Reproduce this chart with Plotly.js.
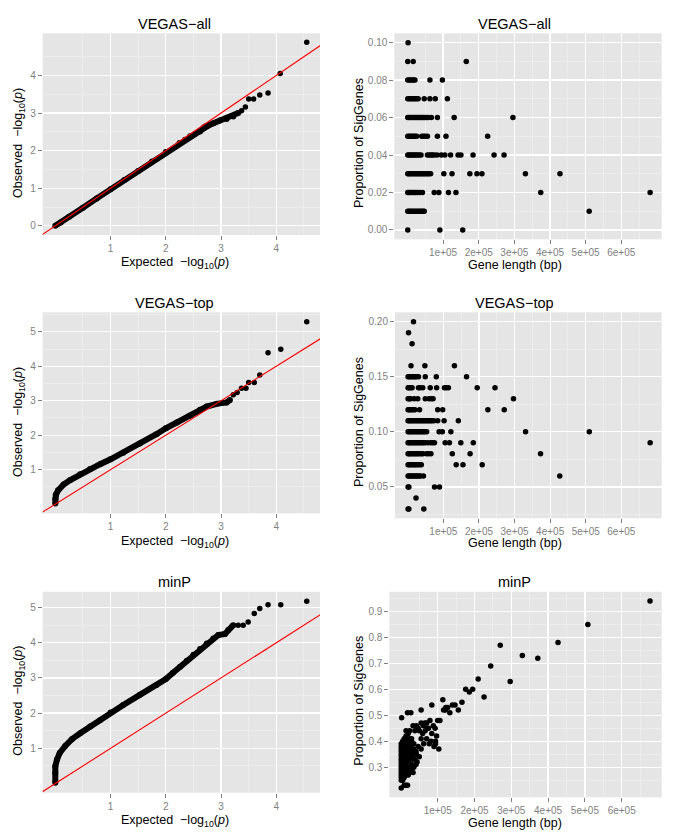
<!DOCTYPE html>
<html><head><meta charset="utf-8">
<script src="https://cdn.plot.ly/plotly-3.0.1.min.js"></script>
<style>body{margin:0;background:#fff}#chart{width:685px;height:837px}</style>
</head><body><div id="chart"></div>
<script>
// ---------------- DATA ----------------
// QQ plots: expected vs observed -log10(p); dense part and sparse upper tail
const qqAllExpDense = [0, 0.1, 0.25, 0.5, 0.75, 1.0, 1.25, 1.5, 1.75, 2.0, 2.25, 2.35, 2.44, 2.53, 2.62, 2.68, 2.71, 2.77, 2.86, 2.98, 3.10, 3.22, 3.31];
const qqAllObsDense = [0, 0.09, 0.24, 0.48, 0.73, 0.97, 1.22, 1.46, 1.71, 1.96, 2.20, 2.29, 2.38, 2.45, 2.51, 2.60, 2.64, 2.67, 2.73, 2.80, 2.84, 2.91, 3.00];
const qqAllExpTail = [3.37, 3.44, 3.50, 3.59, 3.70, 3.85, 4.07, 4.55];
const qqAllObsTail = [3.06, 3.16, 3.37, 3.37, 3.48, 3.53, 4.05, 4.88];

const qqTopExpDense = [0, 0, 0.01, 0.05, 0.15, 0.27, 0.45, 0.63, 0.81, 1.0, 1.23, 1.53, 1.83, 2.0, 2.2, 2.44, 2.62, 2.74, 2.92, 3.10, 3.16];
const qqTopObsDense = [0.02, 0.15, 0.27, 0.40, 0.57, 0.70, 0.87, 1.02, 1.16, 1.30, 1.49, 1.76, 2.03, 2.20, 2.37, 2.57, 2.74, 2.83, 2.91, 2.95, 3.02];
const qqTopExpTail = [3.22, 3.29, 3.37, 3.45, 3.50, 3.60, 3.70, 3.85, 4.08, 4.55];
const qqTopObsTail = [3.17, 3.24, 3.36, 3.36, 3.53, 3.53, 3.75, 4.39, 4.49, 5.29];

const qqMinExpDense = [0, 0, 0, 0.03, 0.08, 0.18, 0.30, 0.45, 0.63, 0.81, 1.0, 1.23, 1.53, 1.83, 2.0, 2.13, 2.26, 2.38, 2.50, 2.62, 2.74, 2.86, 2.95, 3.07, 3.13, 3.22];
const qqMinObsDense = [0.02, 0.30, 0.49, 0.68, 0.87, 1.07, 1.26, 1.43, 1.62, 1.80, 2.02, 2.23, 2.52, 2.80, 2.97, 3.15, 3.32, 3.49, 3.66, 3.82, 3.98, 4.12, 4.22, 4.25, 4.36, 4.50];
const qqMinExpTail = [3.31, 3.40, 3.49, 3.60, 3.70, 3.85, 4.08, 4.55];
const qqMinObsTail = [4.50, 4.50, 4.59, 4.83, 4.97, 5.08, 5.08, 5.18];

// Proportion of SigGenes vs gene length (bp), grouped by proportion
const vegasAllProp = [0.10, 0.09, 0.08, 0.07, 0.06, 0.05, 0.04, 0.03, 0.02, 0.01, 0.00];
const vegasAllLen = [
  [1700],
  [800, 16000, 165000],
  [800, 5000, 9000, 13000, 17000, 21000, 63000, 98000],
  [800, 5000, 9000, 13000, 17000, 21000, 26000, 30000, 47000, 63000, 78000, 112000],
  [800, 4000, 8000, 12000, 16000, 20000, 24000, 28000, 32000, 36000, 40000, 44000, 48000, 53000, 58000, 67000, 84000, 131000, 296000],
  [800, 5000, 9000, 13000, 17000, 21000, 26000, 40000, 45000, 50000, 56000, 84000, 108000, 225000],
  [800, 4000, 8000, 12000, 16000, 20000, 24000, 28000, 33000, 38000, 56000, 61000, 66000, 70000, 75000, 83000, 95000, 105000, 121000, 142000, 150000, 184000, 243000, 271000],
  [800, 4000, 8000, 12000, 16000, 20000, 24000, 28000, 32000, 36000, 40000, 44000, 48000, 52000, 56000, 60000, 65000, 102000, 125000, 175000, 195000, 209000, 331000, 428000],
  [800, 4000, 8000, 12000, 16000, 20000, 24000, 28000, 35000, 42000, 75000, 88000, 115000, 136000, 374000, 681000],
  [800, 4000, 8000, 12000, 16000, 20000, 24000, 28000, 32000, 36000, 40000, 44000, 47000, 510000],
  [800, 91000, 155000]
];

const vegasTopProp = [0.20, 0.19, 0.18, 0.16, 0.15, 0.14, 0.13, 0.12, 0.11, 0.10, 0.09, 0.08, 0.07, 0.06, 0.05, 0.04, 0.03];
const vegasTopLen = [
  [16000],
  [2000],
  [12000],
  [9000, 48000, 131000],
  [800, 4000, 8000, 12000, 16000, 20000, 24000, 30000, 49000, 80000, 165000],
  [800, 4000, 8000, 12000, 30000, 34000, 42000, 63000, 81000, 103000, 108000, 114000, 195000, 245000],
  [800, 4000, 8000, 18000, 28000, 49000, 60000, 66000, 71000, 297000],
  [800, 4000, 8000, 12000, 16000, 20000, 33000, 84000, 98000, 225000, 271000],
  [800, 4000, 8000, 12000, 16000, 20000, 24000, 28000, 32000, 36000, 40000, 44000, 48000, 52000, 56000, 60000, 64000, 68000, 73000, 84000, 102000, 142000],
  [800, 4000, 8000, 12000, 16000, 20000, 24000, 28000, 32000, 36000, 40000, 44000, 48000, 53000, 88000, 97000, 121000, 331000, 510000],
  [800, 4000, 8000, 12000, 16000, 20000, 24000, 28000, 32000, 36000, 40000, 44000, 49000, 56000, 64000, 70000, 75000, 105000, 117000, 149000, 184000, 681000],
  [800, 4000, 8000, 12000, 16000, 20000, 24000, 28000, 33000, 38000, 42000, 52000, 58000, 65000, 125000, 175000, 373000],
  [800, 4000, 8000, 12000, 16000, 20000, 24000, 28000, 33000, 38000, 136000, 155000, 209000],
  [800, 4000, 8000, 12000, 16000, 20000, 24000, 28000, 32000, 36000, 44000, 427000],
  [800, 3000, 75000, 89000],
  [23000],
  [800, 3000, 45000]
];

// minP: grouped by gene length
const minpLen = [1000, 2000, 5000, 9000, 14000, 18000, 20000, 24000, 27000, 29000, 33000, 35000, 38000, 41000, 42000, 44000, 47000, 50000, 55000, 59000, 61000, 62000, 65000, 66000, 70000, 72000, 75000, 77000, 79000, 82000, 84000, 88000, 90000, 93000, 94000, 97000, 100000, 103000, 106000, 114000, 116000, 121000, 122000, 127000, 133000, 140000, 147000, 156000, 166000, 176000, 186000, 195000, 210000, 226000, 244000, 270000, 297000, 330000, 372000, 427000, 508000, 677000];
const minpProp = [
  [0.22,0.25,0.26,0.27,0.28,0.29,0.30,0.31,0.32,0.33,0.34,0.35,0.36,0.37,0.38,0.39],
  [0.49],
  [0.25,0.27,0.29,0.30,0.31,0.32,0.33,0.34,0.35,0.36,0.37,0.38,0.39,0.40],
  [0.23,0.26,0.28,0.30,0.31,0.32,0.33,0.34,0.35,0.36,0.37,0.38,0.40,0.41],
  [0.23,0.27,0.29,0.31,0.33,0.34,0.36,0.37,0.39,0.42,0.44],
  [0.23,0.51],
  [0.27,0.29,0.30,0.32,0.34,0.35,0.38,0.40,0.43],
  [0.28,0.30,0.33,0.36,0.37,0.39,0.41,0.44],
  [0.51],
  [0.29,0.31,0.34,0.36,0.38,0.40,0.41],
  [0.28,0.46],
  [0.30,0.33,0.35,0.37,0.39],
  [0.33,0.44],
  [0.31,0.36],
  [0.35,0.46],
  [0.32],
  [0.38,0.45],
  [0.34,0.44],
  [0.37,0.41,0.47,0.52],
  [0.43],
  [0.46],
  [0.39],
  [0.47],
  [0.44],
  [0.41,0.47],
  [0.45],
  [0.45],
  [0.39],
  [0.48],
  [0.40],
  [0.43,0.54],
  [0.46],
  [0.38],
  [0.45],
  [0.39,0.40],
  [0.42],
  [0.48],
  [0.37],
  [0.48],
  [0.56],
  [0.52],
  [0.52],
  [0.53],
  [0.53],
  [0.51],
  [0.54],
  [0.54],
  [0.52],
  [0.55],
  [0.60],
  [0.59],
  [0.60],
  [0.64],
  [0.57],
  [0.69],
  [0.77],
  [0.63],
  [0.73],
  [0.72],
  [0.78],
  [0.85],
  [0.94]
];

const panelTitles = ['VEGAS\u2212all', 'VEGAS\u2212all', 'VEGAS\u2212top', 'VEGAS\u2212top', 'minP', 'minP'];
const qqXTicks = [1, 2, 3, 4];
const lenTicks = [100000, 200000, 300000, 400000, 500000, 600000];
const lenTickText = ['1e+05', '2e+05', '3e+05', '4e+05', '5e+05', '6e+05'];

// ---------------- LAYOUT HELPERS ----------------
const W = 685, H = 837;
const FONT = 'Liberation Sans, Arial, Helvetica, sans-serif';
const boxes = [
  {l: 42.7, r: 320, t: 33.3, b: 235},
  {l: 394.3, r: 661.7, t: 33.3, b: 239.3},
  {l: 42.7, r: 320, t: 312.3, b: 513.3},
  {l: 395, r: 661.7, t: 312.3, b: 518.3},
  {l: 42.7, r: 320, t: 591.7, b: 792.7},
  {l: 389.3, r: 661.7, t: 591.7, b: 797.3}
];
const ranges = [
  {x: [-0.228, 4.79], y: [-0.244, 5.12]},
  {x: [-37000, 713500], y: [-0.005, 0.105]},
  {x: [-0.228, 4.79], y: [-0.265, 5.565]},
  {x: [-36000, 713500], y: [0.0215, 0.2085]},
  {x: [-0.228, 4.79], y: [-0.26, 5.45]},
  {x: [-31500, 708700], y: [0.184, 0.976]}
];
const yTicks = [
  {v: [0, 1, 2, 3, 4], t: ['0', '1', '2', '3', '4'], m: [0.5, 1.5, 2.5, 3.5, 4.5]},
  {v: [0, 0.02, 0.04, 0.06, 0.08, 0.10], t: ['0.00', '0.02', '0.04', '0.06', '0.08', '0.10'], m: [0.01, 0.03, 0.05, 0.07, 0.09]},
  {v: [1, 2, 3, 4, 5], t: ['1', '2', '3', '4', '5'], m: [0.5, 1.5, 2.5, 3.5, 4.5, 5.5]},
  {v: [0.05, 0.10, 0.15, 0.20], t: ['0.05', '0.10', '0.15', '0.20'], m: [0.025, 0.075, 0.125, 0.175]},
  {v: [1, 2, 3, 4, 5], t: ['1', '2', '3', '4', '5'], m: [0.5, 1.5, 2.5, 3.5, 4.5]},
  {v: [0.3, 0.4, 0.5, 0.6, 0.7, 0.8, 0.9], t: ['0.3', '0.4', '0.5', '0.6', '0.7', '0.8', '0.9'], m: [0.25, 0.35, 0.45, 0.55, 0.65, 0.75, 0.85, 0.95]}
];
const qqXMinor = [0.5, 1.5, 2.5, 3.5, 4.5];
const lenMinor = [50000, 150000, 250000, 350000, 450000, 550000, 650000];

function axisBase(extra) {
  return Object.assign({
    tickmode: 'array', ticks: 'outside', ticklen: 4, tickwidth: 1, tickcolor: '#7F7F7F',
    tickfont: {family: FONT, size: 10, color: '#7F7F7F'},
    showgrid: true, gridcolor: '#FFFFFF', gridwidth: 1.3,
    zeroline: false, showline: false, fixedrange: true, automargin: false
  }, extra);
}
function minor(vals) {
  return {tickmode: 'array', tickvals: vals, showgrid: true, gridcolor: '#F2F2F2', gridwidth: 0.6, ticks: ''};
}
function flatten(keys, groups, keysAreY) {
  const x = [], y = [];
  keys.forEach((k, i) => groups[i].forEach(v => {
    if (keysAreY) { x.push(v); y.push(k); } else { x.push(k); y.push(v); }
  }));
  return {x, y};
}

const layout = {
  width: W, height: H, margin: {l: 0, r: 0, t: 0, b: 0},
  paper_bgcolor: '#FFFFFF', plot_bgcolor: '#E5E5E5', showlegend: false,
  font: {family: FONT}, annotations: []
};

boxes.forEach((b, i) => {
  const n = i + 1, sfx = n === 1 ? '' : String(n);
  const isQQ = i % 2 === 0;
  layout['xaxis' + sfx] = axisBase({
    domain: [b.l / W, b.r / W], range: ranges[i].x, anchor: 'y' + sfx,
    tickvals: isQQ ? qqXTicks : lenTicks,
    ticktext: isQQ ? qqXTicks.map(String) : lenTickText,
    minor: minor(isQQ ? qqXMinor : lenMinor)
  });
  layout['yaxis' + sfx] = axisBase({
    domain: [1 - b.b / H, 1 - b.t / H], range: ranges[i].y, anchor: 'x' + sfx,
    tickvals: yTicks[i].v, ticktext: yTicks[i].t, minor: minor(yTicks[i].m)
  });
  const row = Math.floor(i / 2);
  const cx = isQQ ? 174.5 : 514.5;
  const titleY = [24.3, 303.3, 582.3][row];
  const xtY = isQQ ? [263, 542.3, 821.3][row] : [264.5, 543.2, 823.2][row];
  const ytY = [143, 422, 700.7][row];
  const ytX = isQQ ? 19 : 359;
  layout.annotations.push({
    text: panelTitles[i], xref: 'paper', yref: 'paper', x: cx / W, y: 1 - titleY / H,
    xanchor: 'center', yanchor: 'middle', showarrow: false,
    font: {family: FONT, size: 14.5, color: '#000'}
  });
  layout.annotations.push({
    text: isQQ ? 'Expected  \u2212log<sub>10</sub>(<i>p</i>)' : 'Gene length (bp)',
    xref: 'paper', yref: 'paper', x: cx / W, y: 1 - xtY / H,
    xanchor: 'center', yanchor: 'middle', showarrow: false,
    font: {family: FONT, size: 12.5, color: '#000'}
  });
  layout.annotations.push({
    text: isQQ ? 'Observed  \u2212log<sub>10</sub>(<i>p</i>)' : 'Proportion of SigGenes',
    xref: 'paper', yref: 'paper', x: ytX / W, y: 1 - ytY / H, textangle: -90,
    xanchor: 'center', yanchor: 'middle', showarrow: false,
    font: {family: FONT, size: 12.5, color: '#000'}
  });
});

const MS = 5.5;
function qqTraces(sfx, ex, ob, et, ot) {
  const xa = 'x' + sfx, ya = 'y' + sfx;
  return [
    {type: 'scatter', mode: 'lines+markers', x: ex, y: ob, xaxis: xa, yaxis: ya,
     line: {color: '#000', width: 6}, marker: {color: '#000', size: 6}, hoverinfo: 'skip'},
    {type: 'scatter', mode: 'markers', x: et, y: ot, xaxis: xa, yaxis: ya,
     marker: {color: '#000', size: MS}, hoverinfo: 'skip'},
    {type: 'scatter', mode: 'lines', x: [-1, 6], y: [-1, 6], xaxis: xa, yaxis: ya,
     line: {color: '#FF0000', width: 1.1}, hoverinfo: 'skip'}
  ];
}
function scTrace(sfx, pts) {
  return {type: 'scatter', mode: 'markers', x: pts.x, y: pts.y, xaxis: 'x' + sfx, yaxis: 'y' + sfx,
          marker: {color: '#000', size: MS}, hoverinfo: 'skip'};
}

const traces = [].concat(
  qqTraces('', qqAllExpDense, qqAllObsDense, qqAllExpTail, qqAllObsTail),
  [scTrace('2', flatten(vegasAllProp, vegasAllLen, true))],
  qqTraces('3', qqTopExpDense, qqTopObsDense, qqTopExpTail, qqTopObsTail),
  [scTrace('4', flatten(vegasTopProp, vegasTopLen, true))],
  qqTraces('5', qqMinExpDense, qqMinObsDense, qqMinExpTail, qqMinObsTail),
  [scTrace('6', flatten(minpLen, minpProp, false))]
);

Plotly.newPlot('chart', traces, layout, {staticPlot: true, displayModeBar: false});
</script>
</body></html>
